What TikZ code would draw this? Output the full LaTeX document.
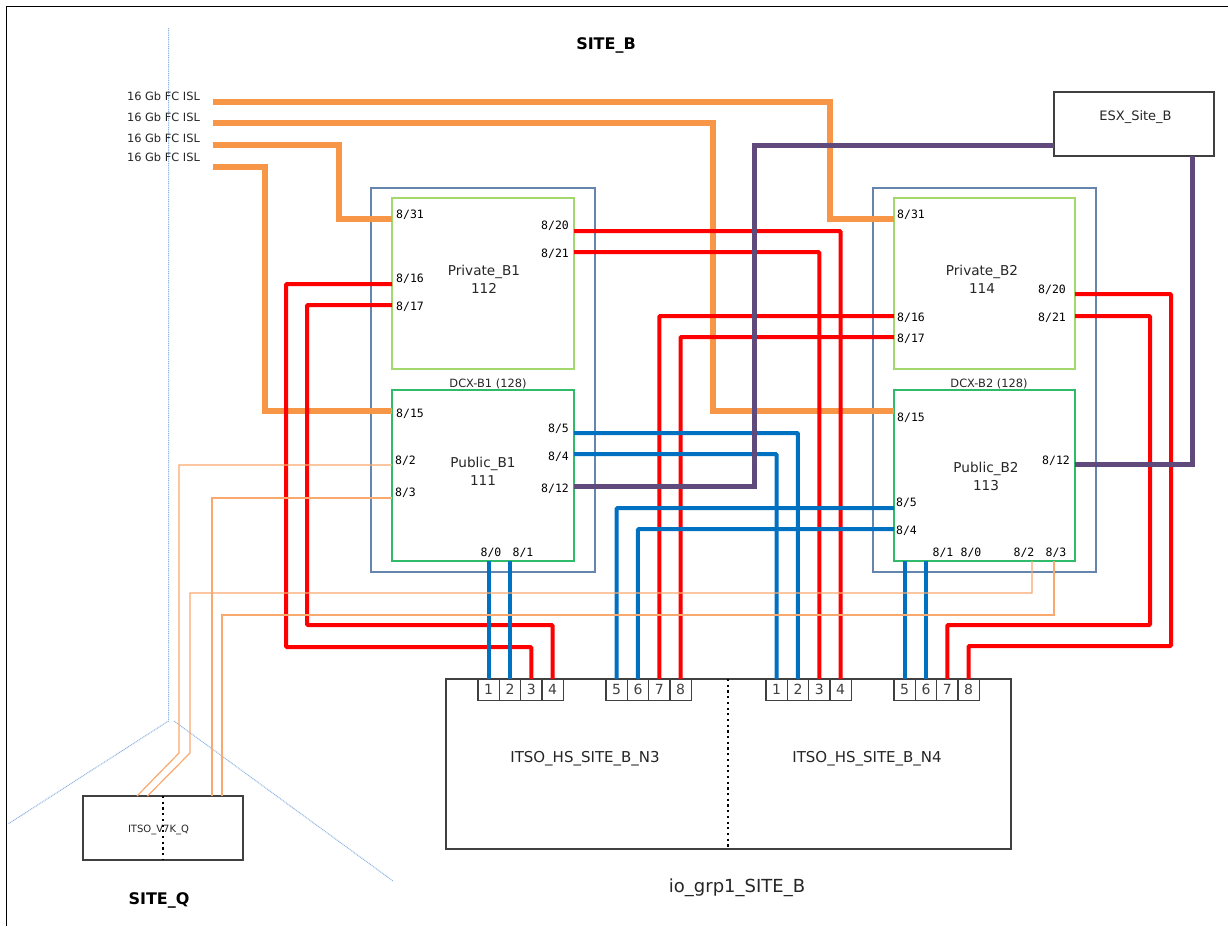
\documentclass[tikz,border=0pt]{standalone}
\usepackage{fontspec}
\setmainfont{DejaVu Sans}
\newfontfamily\portfont{DejaVu Sans Mono}
\definecolor{isl}{HTML}{F79646}
\definecolor{thinisl}{HTML}{F9A86E}
\definecolor{redline}{HTML}{FF0000}
\definecolor{blueline}{HTML}{0070C0}
\definecolor{purpleline}{HTML}{604A7B}
\definecolor{privgreen}{HTML}{A3D86C}
\definecolor{pubgreen}{HTML}{2FBB6A}
\definecolor{dcxblue}{HTML}{6585AD}
\definecolor{siteline}{HTML}{8DB4E2}
\definecolor{boxgrey}{HTML}{404040}
\tikzset{
  x=1pt,y=-1pt,
  box/.style={draw,anchor=north west,inner sep=0pt,outer sep=0pt},
  dcx/.style={box,draw=dcxblue,line width=1.4pt},
  privsw/.style={box,draw=privgreen,line width=1.4pt},
  pubsw/.style={box,draw=pubgreen,line width=1.4pt},
  host/.style={box,draw=boxgrey,line width=1.4pt},
  hba/.style={box,draw=boxgrey,line width=1.2pt,fill=white,minimum width=21.3pt,minimum height=21.5pt,text=black!75,font=\fontsize{14}{14}\selectfont},
  lbl/.style={inner sep=0pt,text=black!85,font=\fontsize{13.6}{18}\selectfont,align=center},
  small/.style={inner sep=0pt,text=black!85,font=\fontsize{11.4}{13}\selectfont},
  port/.style={inner sep=0pt,font=\portfont\fontsize{11.5}{12}\selectfont},
  sitelbl/.style={inner sep=0pt,font=\bfseries\fontsize{16}{18}\selectfont},
  islw/.style={draw=isl,line width=6pt},
  redw/.style={draw=redline,line width=4pt,rounded corners=1pt},
  bluew/.style={draw=blueline,line width=4pt,rounded corners=1pt},
  purw/.style={draw=purpleline,line width=5pt},
  thinw/.style={draw=thinisl,line width=1.2pt},
  sitew/.style={draw=siteline,line width=1pt,dash pattern=on 1pt off 0.8pt},
  sep/.style={draw=black,line width=2.2pt,dash pattern=on 2.2pt off 3.5pt},
}
\begin{document}
\begin{tikzpicture}
\useasboundingbox (0,0) rectangle (1228,926);
\fill[white] (0,0) rectangle (1228,926);
\draw[black,line width=1pt] (6,926) -- (6,6) -- (1228,6);

% site boundaries
\coordinate (siteTop) at (168.5,28);
\coordinate (siteApex) at (168.5,721);
\coordinate (siteLeft) at (8,824);
\coordinate (siteR0) at (174,721);
\coordinate (siteRight) at (393,881);
\draw[sitew] (siteTop) -- (siteApex) -- (siteLeft);
\draw[sitew] (siteR0) -- (siteRight);

% enclosures and switches
\node[dcx,minimum width=224pt,minimum height=384pt] (dcx1) at (371,188) {};
\node[dcx,minimum width=223pt,minimum height=384pt] (dcx2) at (873,188) {};
\node[privsw,fill=white,minimum width=182pt,minimum height=171pt] (s112) at (392,198) {};
\node[pubsw,fill=white,minimum width=182pt,minimum height=171pt] (s111) at (392,390) {};
\node[privsw,fill=white,minimum width=181pt,minimum height=171pt] (s114) at (894,198) {};
\node[pubsw,fill=white,minimum width=181pt,minimum height=171pt] (s113) at (894,390) {};

% hosts
\node[host,minimum width=565pt,minimum height=170pt] (iogrp) at (446,679) {};
\node[host,minimum width=160pt,minimum height=64pt] (esx) at (1054,92) {};
\node[host,minimum width=160pt,minimum height=64pt] (v7k) at (83,796) {};

% hba ports
\foreach \n/\x in {1/478,2/499.3,3/520.6,4/541.9,5/606,6/627.3,7/648.6,8/669.9}
  \node[hba] (a\n) at (\x,679) {\n};
\foreach \n/\x in {1/766,2/787.3,3/808.6,4/829.9,5/894,6/915.3,7/936.6,8/957.9}
  \node[hba] (b\n) at (\x,679) {\n};

% free line ends
\foreach \k/\y in {1/102,2/123,3/145,4/167} \coordinate (isl\k) at (213,\y);

% thick ISLs
\draw[islw] (isl1) -| (830,219) -- (s114.west |- 0,219);
\draw[islw] (isl2) -| (713,411) -- (s113.west |- 0,411);
\draw[islw] (isl3) -| (339,219) -- (s112.west |- 0,219);
\draw[islw] (isl4) -| (265,411) -- (s111.west |- 0,411);

% red links
\draw[redw] (s112.west |- 0,284) -| (286,647) -| (a3.north);
\draw[redw] (s112.west |- 0,305) -| (307,625) -| (a4.north);
\draw[redw] (s112.east |- 0,231) -| (b4.north);
\draw[redw] (s112.east |- 0,252) -| (b3.north);
\draw[redw] (s114.west |- 0,316) -| (a7.north);
\draw[redw] (s114.west |- 0,337) -| (a8.north);
\draw[redw] (s114.east |- 0,294) -| (1171,646) -| (b8.north);
\draw[redw] (s114.east |- 0,316) -| (1150,625) -| (b7.north);

% blue links
\draw[bluew] (s111.east |- 0,433) -| (b2.north);
\draw[bluew] (s111.east |- 0,454) -| (b1.north);
\draw[bluew] (s113.west |- 0,508) -| (a5.north);
\draw[bluew] (s113.west |- 0,529) -| (a6.north);
\draw[bluew] (s111.south -| a1.north) -- (a1.north);
\draw[bluew] (s111.south -| a2.north) -- (a2.north);
\draw[bluew] (s113.south -| b5.north) -- (b5.north);
\draw[bluew] (s113.south -| b6.north) -- (b6.north);

% purple links
\draw[purw] (esx.west |- 0,145) -| (754,486) -- (s111.east |- 0,486);
\draw[purw] (esx.south -| 1192,0) |- (s113.east |- 0,464);

% thin ISL fibres
\draw[thinw] (s111.west |- 0,465) -| (179,753) -- (137,796);
\draw[thinw] (s111.west |- 0,498) -| (212,796);
\draw[thinw] (s113.south -| 1032,0) |- (190,593) -- (190,753) -- (147.5,796);
\draw[thinw] (s113.south -| 1054,0) |- (222,615) -- (222,796);

% text
\node[sitelbl] (siteb) at (606,45) {SITE\_B};
\node[sitelbl] (siteq) at (159,900) {SITE\_Q};
\foreach \k/\y in {1/96,2/117,3/138,4/157}
  \node[small] (t\k) at (163.5,\y) {16 Gb FC ISL};
\node[lbl,font=\fontsize{13}{15}\selectfont] (tesx) at (1135.5,117) {ESX\_Site\_B};
\node[lbl] (t112) at (484,279) {Private\_B1\\112};
\node[lbl] (t111) at (483,471) {Public\_B1\\111};
\node[lbl] (t114) at (982,279) {Private\_B2\\114};
\node[lbl] (t113) at (986,476) {Public\_B2\\113};
\node[small] (d1) at (488,384) {DCX-B1 (128)};
\node[small] (d2) at (989,384) {DCX-B2 (128)};
\node[lbl,font=\fontsize{15}{17}\selectfont] (tn3) at (585,759) {ITSO\_HS\_SITE\_B\_N3};
\node[lbl,font=\fontsize{15}{17}\selectfont] (tn4) at (867,759) {ITSO\_HS\_SITE\_B\_N4};
\node[lbl,font=\fontsize{18}{20}\selectfont] (tio) at (737,888) {io\_grp1\_SITE\_B};
\node[small,font=\fontsize{10}{11}\selectfont] (tv7k) at (158.5,830) {ITSO\_V7K\_Q};

% dotted dividers
\draw[sep] (iogrp.north -| 728,679) -- (iogrp.south -| 728,849);
\draw[sep] (v7k.north -| 163,796) -- (v7k.south -| 163,858);

% port labels
\foreach \nm/\t/\x/\y in {
 q1/8\slash31/410/215, q2/8\slash20/555/226, q3/8\slash21/555/254, q4/8\slash16/410/279, q5/8\slash17/410/307,
 q6/8\slash15/410/414, q7/8\slash2/405.5/461, q8/8\slash3/405.5/493, q9/8\slash5/558.5/429, q10/8\slash4/558.5/457,
 q11/8\slash12/555/489, q12/8\slash0/491/553, q13/8\slash1/523/553,
 r1/8\slash31/911/215, r2/8\slash20/1052/290, r3/8\slash21/1052/318, r4/8\slash16/911/318, r5/8\slash17/911/339,
 r6/8\slash15/911/418, r7/8\slash12/1056/461, r8/8\slash5/906.5/503, r9/8\slash4/906.5/531,
 r10/8\slash1/943/553, r11/8\slash0/971/553, r12/8\slash2/1024/553, r13/8\slash3/1056/553}
  \node[port] (\nm) at (\x,\y) {\t};
\end{tikzpicture}
\end{document}
